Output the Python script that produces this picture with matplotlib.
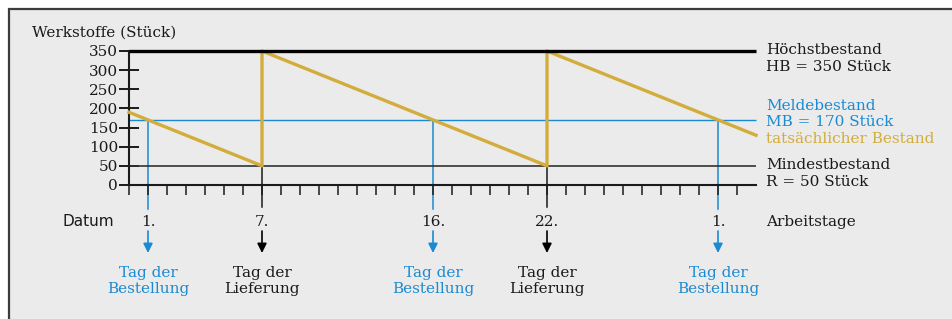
import matplotlib.pyplot as plt
from matplotlib.patches import Rectangle
from matplotlib.transforms import blended_transform_factory

# Lagerbestand ueber die Arbeitstage (Saegezahn-Verlauf)
tage = [0, 7, 7, 22, 22, 33]
bestand = [190, 50, 350, 50, 350, 130]

hoechst = 350   # HB
melde = 170     # MB
mindest = 50    # R

bestell_tage = [1, 16, 31]
bestell_labels = ['1.', '16.', '1.']
liefer_tage = [7, 22]
liefer_labels = ['7.', '22.']
y_ticks = [0, 50, 100, 150, 200, 250, 300, 350]

BLUE = '#1b8ad2'
GOLD = '#d3ad3b'
DARK = '#1a1a1a'
FS = 11

plt.rcParams['font.family'] = 'DejaVu Serif'

W, H = 952, 319
fig = plt.figure(figsize=(W / 100, H / 100), dpi=100)
fig.patch.set_facecolor('white')

# grauer Kasten mit Rand oben und links
fig.patches.append(Rectangle((9 / W, -0.2), 1.2, 1.2 - 9 / H, transform=fig.transFigure,
                             facecolor='#ebebeb', edgecolor='#3c3c3c', lw=1.6, zorder=-5))

# Achse: t=0 bei x=129px, 19px pro Tag; y=0 bei 185px, 350 bei 51px (von oben)
ax = fig.add_axes([129 / W, (H - 185) / H, 33 * 19 / W, 134 / H])
ax.set_facecolor('none')
ax.set_xlim(0, 33)
ax.set_ylim(0, 350)
for s in ['top', 'right']:
    ax.spines[s].set_visible(False)
ax.spines['left'].set_linewidth(1.5)
ax.spines['bottom'].set_linewidth(1.5)
ax.spines['left'].set_color(DARK)
ax.spines['bottom'].set_color(DARK)
ax.spines['bottom'].set_zorder(1)

ax.set_yticks(y_ticks)
ax.tick_params(axis='y', direction='inout', length=14, width=1.4, labelsize=FS, pad=1, colors=DARK)
ax.set_xticks(range(0, 33))
ax.set_xticklabels([])
ax.tick_params(axis='x', direction='out', length=7, width=1.1, colors=DARK)

# Bestandslinien
ax.hlines(hoechst, 0, 33, color='black', lw=2.4, zorder=5, clip_on=False)
ax.hlines(melde, 0, 33, color=BLUE, lw=1.0, zorder=2, clip_on=False)
ax.hlines(mindest, 0, 33, color='#333333', lw=1.2, zorder=2, clip_on=False)
ax.plot(tage, bestand, color=GOLD, lw=2.4, zorder=4, clip_on=False)

# senkrechte Linien zu den Tagen
for d in bestell_tage:
    ax.plot([d, d], [melde, -62], color=BLUE, lw=1.1, zorder=1, clip_on=False)
for d in liefer_tage:
    ax.plot([d, d], [mindest, -58], color=DARK, lw=1.1, zorder=1, clip_on=False)

def fy(ytop):
    return 1 - ytop / H

tr = blended_transform_factory(ax.transData, fig.transFigure)

# Datum-Zeile
fig.text(88 / W, fy(222), 'Datum', family='DejaVu Sans', fontsize=FS, color=DARK, ha='center', va='center')
fig.text(766 / W, fy(222), 'Arbeitstage', fontsize=FS, color=DARK, ha='left', va='center')

for d, lab in zip(bestell_tage, bestell_labels):
    ax.text(d, fy(222), lab, transform=tr, fontsize=FS, color=DARK, ha='center', va='center')
    ax.annotate('', xy=(d, fy(253)), xytext=(d, fy(231)), xycoords=tr, textcoords=tr,
                arrowprops=dict(arrowstyle='-|>', color=BLUE, lw=1.2, mutation_scale=14,
                                shrinkA=0, shrinkB=0))
    ax.text(d, fy(281), 'Tag der\nBestellung', transform=tr, fontsize=FS, color=BLUE,
            ha='center', va='center', linespacing=1.1)

for d, lab in zip(liefer_tage, liefer_labels):
    ax.text(d, fy(222), lab, transform=tr, fontsize=FS, color=DARK, ha='center', va='center')
    ax.annotate('', xy=(d, fy(253)), xytext=(d, fy(231)), xycoords=tr, textcoords=tr,
                arrowprops=dict(arrowstyle='-|>', color='black', lw=1.2, mutation_scale=14,
                                shrinkA=0, shrinkB=0))
    ax.text(d, fy(281), 'Tag der\nLieferung', transform=tr, fontsize=FS, color=DARK,
            ha='center', va='center', linespacing=1.1)

# Beschriftungen rechts
rx = 766 / W
fig.text(32 / W, fy(33), 'Werkstoffe (Stück)', fontsize=FS, color=DARK, ha='left', va='center')
fig.text(rx, fy(50), 'Höchstbestand', fontsize=FS, color=DARK, va='center')
fig.text(rx, fy(67), 'HB = 350 Stück', fontsize=FS, color=DARK, va='center')
fig.text(rx, fy(106), 'Meldebestand', fontsize=FS, color=BLUE, va='center')
fig.text(rx, fy(122), 'MB = 170 Stück', fontsize=FS, color=BLUE, va='center')
fig.text(rx, fy(139), 'tatsächlicher Bestand', fontsize=FS, color=GOLD, va='center')
fig.text(rx, fy(165), 'Mindestbestand', fontsize=FS, color=DARK, va='center')
fig.text(rx, fy(182), 'R = 50 Stück', fontsize=FS, color=DARK, va='center')

fig.savefig('out.png', dpi=100)
